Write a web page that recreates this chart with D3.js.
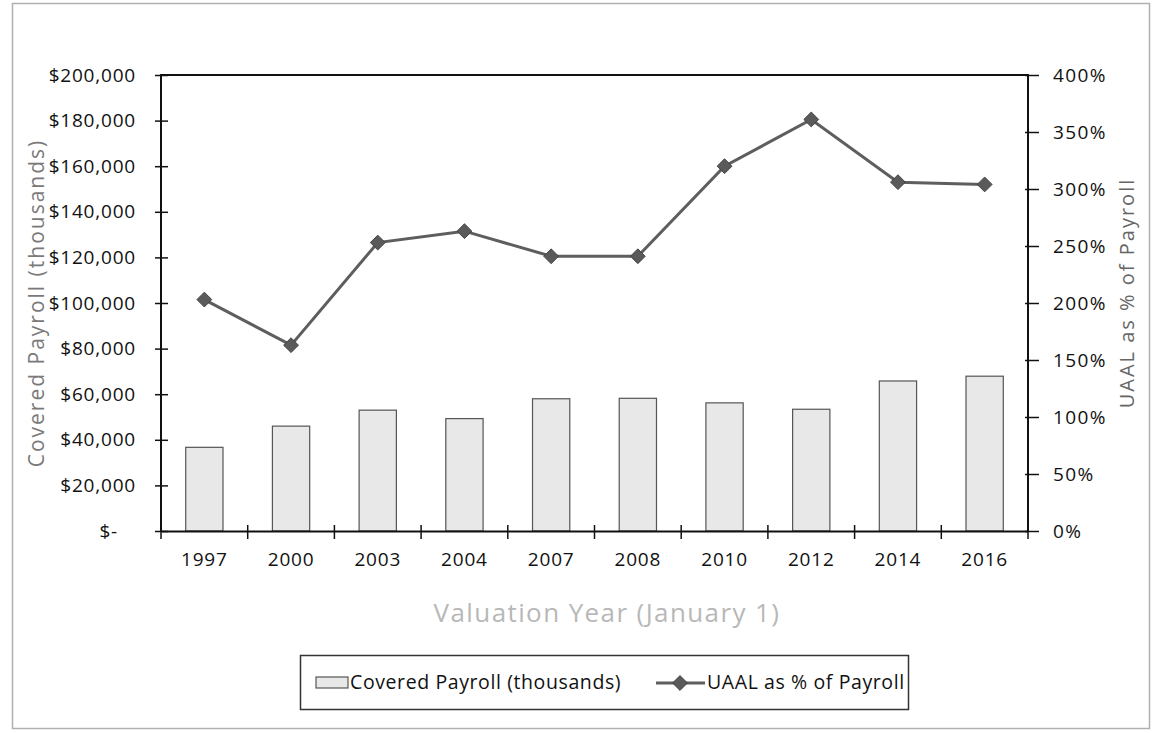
<!DOCTYPE html>
<html>
<head>
<meta charset="utf-8">
<script src="https://d3js.org/d3.v7.min.js"></script>
<style>
  html, body { margin: 0; padding: 0; background: #fff; }
  svg { display: block; }
  text { font-family: "Open Sans", "DejaVu Sans", sans-serif; }
</style>
</head>
<body>
<svg id="chart" width="1152" height="733"></svg>
<script>
// Valuation years (January 1)
const years = ["1997", "2000", "2003", "2004", "2007", "2008", "2010", "2012", "2014", "2016"];
// Covered payroll, in thousands of dollars
const payroll = [36700, 46000, 53000, 49300, 58000, 58200, 56200, 53400, 65800, 67900];
// Unfunded actuarial accrued liability as a percent of payroll
const uaalPct = [203, 163, 253, 263, 241, 241, 320, 361, 306, 304];
// Axis tick values
const payrollTicks = [0, 20000, 40000, 60000, 80000, 100000, 120000, 140000, 160000, 180000, 200000];
const pctTicks = [0, 50, 100, 150, 200, 250, 300, 350, 400];

const svg = d3.select("#chart");
const plot = { left: 161, right: 1028, top: 75, bottom: 531 };

// Outer chart frame
svg.append("rect")
  .attr("x", 12.5).attr("y", 3.5)
  .attr("width", 1137).attr("height", 725)
  .attr("fill", "none").attr("stroke", "#b0b0b0").attr("stroke-width", 1.5);

const x = d3.scaleBand().domain(years).range([plot.left, plot.right]).padding(0);
const yL = d3.scaleLinear().domain([0, 200000]).range([plot.bottom, plot.top]);
const yR = d3.scaleLinear().domain([0, 400]).range([plot.bottom, plot.top]);

const barW = x.bandwidth() * 0.43;

// Bars: covered payroll
svg.append("g").selectAll("rect")
  .data(years)
  .join("rect")
  .attr("x", d => x(d) + (x.bandwidth() - barW) / 2)
  .attr("y", (d, i) => yL(payroll[i]))
  .attr("width", barW)
  .attr("height", (d, i) => plot.bottom - yL(payroll[i]))
  .attr("fill", "#e8e8e8")
  .attr("stroke", "#555")
  .attr("stroke-width", 1.2);

// Plot frame (top and sides)
svg.append("path")
  .attr("d", `M${plot.left},${plot.bottom}V${plot.top}H${plot.right}V${plot.bottom}`)
  .attr("fill", "none").attr("stroke", "#111").attr("stroke-width", 2);

const fmtMoney = v => v === 0 ? "$-" : "$" + d3.format(",")(v);

// Left axis
const gL = svg.append("g")
  .attr("transform", `translate(${plot.left},0)`)
  .call(d3.axisLeft(yL).tickValues(payrollTicks).tickFormat(fmtMoney).tickSize(6).tickPadding(19));
gL.select(".domain").remove();
gL.selectAll(".tick line").attr("x2", -6).attr("x1", 7).attr("stroke", "#111").attr("stroke-width", 1.5);
gL.selectAll(".tick text")
  .attr("fill", "#111").style("font-size", "19px").style("letter-spacing", "0.8px")
  .attr("dx", d => d === 0 ? -18 : 0);

// Right axis
const gR = svg.append("g")
  .attr("transform", `translate(${plot.right},0)`)
  .call(d3.axisRight(yR).tickValues(pctTicks).tickFormat(d => d + "%").tickSize(11).tickPadding(14));
gR.select(".domain").remove();
gR.selectAll(".tick line").attr("x1", -3).attr("stroke", "#111").attr("stroke-width", 1.5);
gR.selectAll(".tick text")
  .attr("fill", "#111").style("font-size", "19px").style("letter-spacing", "1.4px");

// Bottom axis with ticks at category boundaries
const gB = svg.append("g")
  .attr("transform", `translate(0,${plot.bottom})`)
  .call(d3.axisBottom(x).tickSize(0).tickPadding(22));
gB.select(".domain").attr("stroke", "#111").attr("stroke-width", 2);
gB.selectAll(".tick text")
  .attr("fill", "#111").style("font-size", "19px").style("letter-spacing", "0.8px");
gB.selectAll("line.sep")
  .data(years.concat(["end"]))
  .join("line")
  .attr("class", "sep")
  .attr("x1", (d, i) => i < years.length ? x(d) : plot.right)
  .attr("x2", (d, i) => i < years.length ? x(d) : plot.right)
  .attr("y1", -6).attr("y2", 8)
  .attr("stroke", "#111").attr("stroke-width", 1.5);

// UAAL line with diamond markers
const cx = d => x(d) + x.bandwidth() / 2;
const line = d3.line().x(d => cx(d)).y((d, i) => yR(uaalPct[i]));
svg.append("path")
  .datum(years)
  .attr("d", line)
  .attr("fill", "none").attr("stroke", "#5e5e5e").attr("stroke-width", 3);

const diamond = d3.symbol().type(d3.symbolDiamond2).size(140);
svg.append("g").selectAll("path")
  .data(years)
  .join("path")
  .attr("transform", (d, i) => `translate(${cx(d)},${yR(uaalPct[i])})`)
  .attr("d", diamond)
  .attr("fill", "#5a5a5a").attr("stroke", "#444").attr("stroke-width", 1);

// Axis titles
svg.append("text")
  .attr("transform", `translate(44,${(plot.top + plot.bottom) / 2}) rotate(-90)`)
  .attr("text-anchor", "middle")
  .attr("fill", "#7a7a7a").style("font-size", "21px").style("letter-spacing", "2px")
  .text("Covered Payroll (thousands)");

svg.append("text")
  .attr("transform", `translate(1134,${(plot.top + plot.bottom) / 2 - 10}) rotate(-90)`)
  .attr("text-anchor", "middle")
  .attr("fill", "#666").style("font-size", "20px").style("letter-spacing", "2px")
  .text("UAAL as % of Payroll");

svg.append("text")
  .attr("x", 607).attr("y", 622)
  .attr("text-anchor", "middle")
  .attr("fill", "#b8b8b8").style("font-size", "26px").style("letter-spacing", "1.4px")
  .text("Valuation Year (January 1)");

// Legend
const lg = svg.append("g");
lg.append("rect")
  .attr("x", 300.5).attr("y", 655.5).attr("width", 608).attr("height", 54)
  .attr("fill", "#fff").attr("stroke", "#333").attr("stroke-width", 1.5);
lg.append("rect")
  .attr("x", 316).attr("y", 677).attr("width", 32).attr("height", 11)
  .attr("fill", "#e8e8e8").attr("stroke", "#555").attr("stroke-width", 1.2);
lg.append("text")
  .attr("x", 350).attr("y", 689)
  .attr("fill", "#111").style("font-size", "19.5px").style("letter-spacing", "0.6px")
  .text("Covered Payroll (thousands)");
lg.append("line")
  .attr("x1", 656).attr("x2", 705).attr("y1", 683).attr("y2", 683)
  .attr("stroke", "#5e5e5e").attr("stroke-width", 3);
lg.append("path")
  .attr("transform", "translate(680,683)")
  .attr("d", diamond)
  .attr("fill", "#5a5a5a").attr("stroke", "#444").attr("stroke-width", 1);
lg.append("text")
  .attr("x", 707).attr("y", 689)
  .attr("fill", "#111").style("font-size", "19.5px").style("letter-spacing", "0.6px")
  .text("UAAL as % of Payroll");
</script>
</body>
</html>
